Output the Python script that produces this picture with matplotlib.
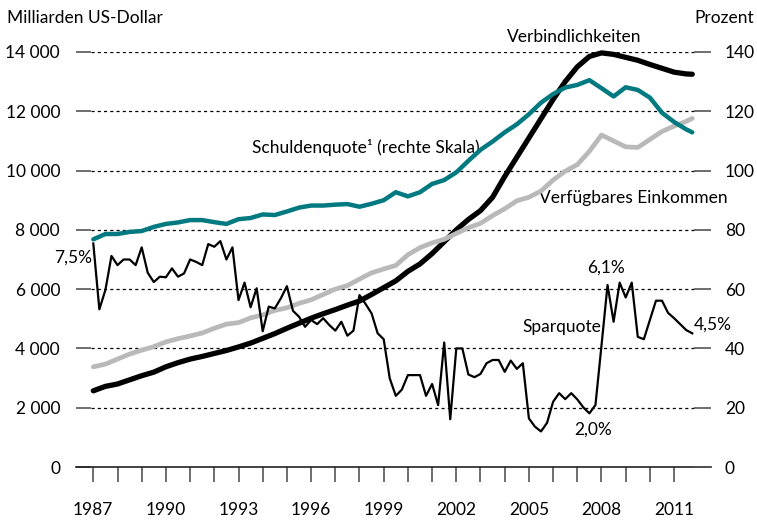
import numpy as np
import matplotlib.pyplot as plt
from matplotlib.ticker import FuncFormatter, MultipleLocator

plt.rcParams['font.family'] = ['Lato', 'DejaVu Sans']

# --- Daten ---
# Halbjahreswerte (Verbindlichkeiten, Einkommen in Tsd. Mrd. USD; Schuldenquote in %)
halbjahre = list(np.arange(1987, 2011.6, 0.5)) + [2011.75]

verbindlichkeiten = [2.57, 2.72, 2.80, 2.94, 3.08, 3.20, 3.38, 3.52, 3.64, 3.73,
                     3.83, 3.93, 4.05, 4.18, 4.34, 4.50, 4.68, 4.85, 5.02, 5.17,
                     5.31, 5.46, 5.60, 5.82, 6.05, 6.28, 6.60, 6.85, 7.20, 7.60,
                     8.00, 8.35, 8.65, 9.10, 9.80, 10.45, 11.10, 11.75, 12.40, 13.00,
                     13.50, 13.85, 13.97, 13.92, 13.82, 13.72, 13.58, 13.45, 13.32, 13.26,
                     13.25]

einkommen = [3.38, 3.47, 3.64, 3.81, 3.94, 4.06, 4.22, 4.33, 4.42, 4.52,
             4.68, 4.82, 4.87, 5.03, 5.13, 5.28, 5.37, 5.52, 5.64, 5.82,
             6.00, 6.12, 6.34, 6.55, 6.68, 6.80, 7.16, 7.40, 7.56, 7.68,
             7.88, 8.07, 8.22, 8.48, 8.71, 8.98, 9.10, 9.31, 9.68, 9.98,
             10.20, 10.65, 11.20, 11.00, 10.80, 10.78, 11.05, 11.32, 11.50, 11.66,
             11.76]

schuldenquote = [76.8, 78.6, 78.6, 79.3, 79.6, 81.0, 82.0, 82.5, 83.3, 83.3,
                 82.6, 82.0, 83.6, 84.0, 85.2, 85.0, 86.2, 87.5, 88.2, 88.2,
                 88.5, 88.7, 87.8, 88.8, 90.0, 92.7, 91.3, 92.7, 95.5, 96.8,
                 99.4, 103.3, 107.0, 109.8, 112.9, 115.6, 119.0, 122.9, 125.8, 128.0,
                 128.9, 130.5, 127.8, 125.0, 128.1, 127.2, 124.6, 119.5, 116.4, 113.9,
                 112.9]

# Quartalswerte Sparquote in %
quartale = 1987 + 0.25 * np.arange(100)
sparquote = [7.54, 5.32, 5.97, 7.12, 6.81, 7.00, 7.00, 6.81, 7.41, 6.55,
             6.24, 6.42, 6.40, 6.70, 6.42, 6.53, 7.00, 6.92, 6.81, 7.52,
             7.43, 7.62, 7.00, 7.41, 5.63, 6.22, 5.39, 6.03, 4.58, 5.41,
             5.35, 5.69, 6.10, 5.27, 5.07, 4.73, 4.96, 4.82, 5.02, 4.79,
             4.60, 4.90, 4.43, 4.60, 5.80, 5.50, 5.18, 4.51, 4.31, 2.99,
             2.40, 2.61, 3.10, 3.10, 3.10, 2.40, 2.80, 2.09, 4.20, 1.61,
             4.00, 4.00, 3.12, 3.03, 3.14, 3.50, 3.61, 3.61, 3.21, 3.59,
             3.31, 3.50, 1.64, 1.36, 1.20, 1.49, 2.20, 2.49, 2.29, 2.49,
             2.28, 2.01, 1.81, 2.09, 4.10, 6.14, 4.90, 6.22, 5.72, 6.22,
             4.39, 4.31, 4.96, 5.61, 5.61, 5.20, 5.02, 4.82, 4.62, 4.51]

jahre_labels = list(range(1987, 2012, 3))

teal = '#007a80'
grau = '#b9b9b9'
tick_col = '#555555'
fs = 12.5

# --- Figur ---
fig = plt.figure(figsize=(7.57, 5.2), dpi=100)
ax = fig.add_axes([76/757, 53/520, 635/757, 415/520])
ax2 = ax.twinx()

ax.set_xlim(1986.285, 2012.525)
ax.set_ylim(0, 14000)
ax2.set_ylim(0, 140)

# Gitterlinien (gepunktet)
for v in range(2000, 14001, 2000):
    ax.axhline(v, xmin=15/635, xmax=1 - 17/635, color='black', lw=0.9,
               ls=(0, (2.5, 2.5)), zorder=1)

# Linien
ax.plot(halbjahre, np.array(verbindlichkeiten) * 1000, color='black', lw=3.8,
        solid_capstyle='round', zorder=3, clip_on=False)
ax.plot(halbjahre, np.array(einkommen) * 1000, color=grau, lw=3.4,
        solid_capstyle='round', zorder=4)
ax.plot(halbjahre, np.array(schuldenquote) * 100, color=teal, lw=3.2,
        solid_capstyle='round', zorder=4)
ax.plot(quartale, np.array(sparquote) * 1000, color='black', lw=1.6, zorder=5)

# Achsen
for s in ['top', 'left', 'right']:
    ax.spines[s].set_visible(False)
    ax2.spines[s].set_visible(False)
ax2.spines['bottom'].set_visible(False)
ax.spines['bottom'].set_color('#222222')
ax.spines['bottom'].set_linewidth(1.2)

ax.yaxis.set_major_locator(MultipleLocator(2000))
ax.yaxis.set_major_formatter(FuncFormatter(lambda v, p: f'{int(v):,}'.replace(',', ' ')))
ax.tick_params(axis='y', direction='in', length=11, width=1.2, color=tick_col,
               labelsize=fs, pad=11.5)
ax2.yaxis.set_major_locator(MultipleLocator(20))
ax2.tick_params(axis='y', direction='in', length=12, width=1.2, color=tick_col,
                labelsize=fs, pad=10)

ax.set_xticks(jahre_labels)
ax.set_xticklabels([str(j) for j in jahre_labels])
ax.set_xticks(range(1987, 2012), minor=True)
ax.tick_params(axis='x', which='both', direction='out', length=11, width=1.2,
               color=tick_col, labelsize=fs, pad=14)

# Beschriftungen
fig.text(7/757, 1 - 18/520, 'Milliarden US-Dollar', fontsize=fs, va='center', ha='left')
fig.text(754/757, 1 - 18/520, 'Prozent', fontsize=fs, va='center', ha='right')

ax.text(2006.86, 14500, 'Verbindlichkeiten', fontsize=fs, ha='center', va='center')
ax.text(1993.55, 10790, 'Schuldenquote¹ (rechte Skala)', fontsize=fs, ha='left', va='center')
ax.text(2009.32, 9070, 'Verfügbares Einkommen', fontsize=fs, ha='center', va='center')
ax.text(1986.95, 7050, '7,5%', fontsize=fs, ha='right', va='center')
ax.text(2008.19, 6710, '6,1%', fontsize=fs, ha='center', va='center')
ax.text(2006.37, 4720, 'Sparquote', fontsize=fs, ha='center', va='center')
ax.text(2011.82, 4790, '4,5%', fontsize=fs, ha='left', va='center')
ax.text(2007.65, 1250, '2,0%', fontsize=fs, ha='center', va='center')

fig.savefig('out.png', dpi=100)
